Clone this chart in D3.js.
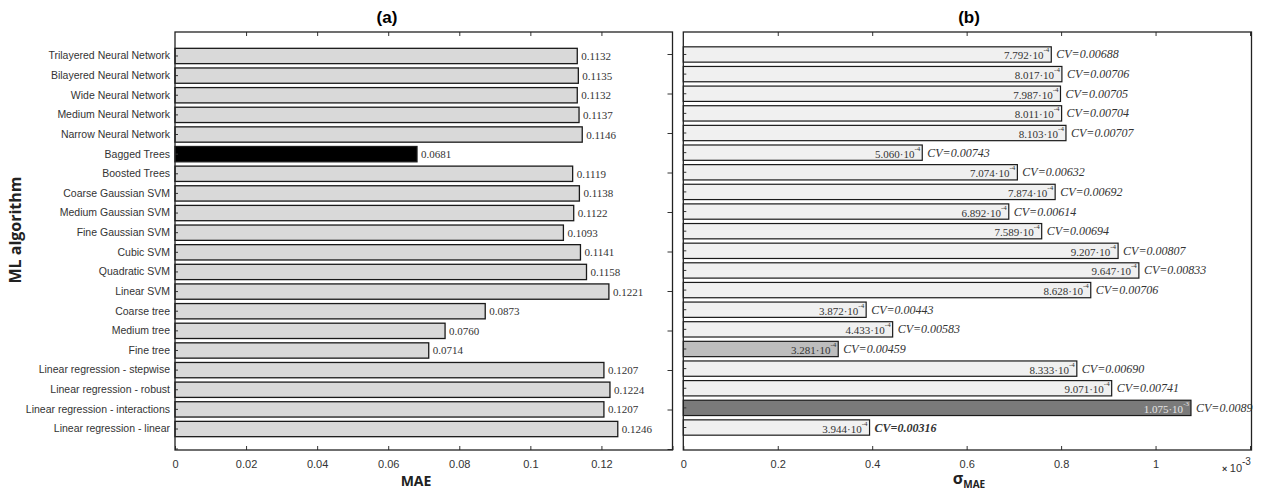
<!DOCTYPE html>
<meta charset="utf-8">
<script src="https://d3js.org/d3.v7.min.js"></script>
<style>
  body { margin: 0; background: #fff; }
  .tick text { font-family: "Liberation Sans", Arial, sans-serif; fill: #333; }
  .tick line { stroke: #333; }
  .val { font-family: "Liberation Serif", "Times New Roman", serif; fill: #333; }
</style>
<div id="chart"></div>
<script>
// data, listed top to bottom as in the figure
var algorithms = [
  "Trilayered Neural Network", "Bilayered Neural Network", "Wide Neural Network",
  "Medium Neural Network", "Narrow Neural Network", "Bagged Trees", "Boosted Trees",
  "Coarse Gaussian SVM", "Medium Gaussian SVM", "Fine Gaussian SVM", "Cubic SVM",
  "Quadratic SVM", "Linear SVM", "Coarse tree", "Medium tree", "Fine tree",
  "Linear regression - stepwise", "Linear regression - robust",
  "Linear regression - interactions", "Linear regression - linear"
];
var maeValues = [0.1132, 0.1135, 0.1132, 0.1137, 0.1146, 0.0681, 0.1119, 0.1138, 0.1122, 0.1093,
                 0.1141, 0.1158, 0.1221, 0.0873, 0.0760, 0.0714, 0.1207, 0.1224, 0.1207, 0.1246];
var sigmaValues = [7.792e-4, 8.017e-4, 7.987e-4, 8.011e-4, 8.103e-4, 5.060e-4, 7.074e-4, 7.874e-4,
                   6.892e-4, 7.589e-4, 9.207e-4, 9.647e-4, 8.628e-4, 3.872e-4, 4.433e-4, 3.281e-4,
                   8.333e-4, 9.071e-4, 1.075e-3, 3.944e-4];
var cvLabels = ["0.00688", "0.00706", "0.00705", "0.00704", "0.00707", "0.00743", "0.00632", "0.00692",
                "0.00614", "0.00694", "0.00807", "0.00833", "0.00706", "0.00443", "0.00583", "0.00459",
                "0.00690", "0.00741", "0.0089", "0.00316"];
var maeTicks = [0, 0.02, 0.04, 0.06, 0.08, 0.1, 0.12, 0.14];
var sigmaTicks = [0, 0.2e-3, 0.4e-3, 0.6e-3, 0.8e-3, 1.0e-3, 1.2e-3];
var bestMae = "Bagged Trees";
var sigmaShaded = { "Fine tree": "#bdbdbd", "Linear regression - interactions": "#7a7a7a" };
var bestCv = "Linear regression - linear";

var W = 1261, H = 491;
var top0 = 32, bot0 = 450;
var A = { x0: 175, x1: 672.5 };
var B = { x0: 683.3, x1: 1250 };

var svg = d3.select("#chart").append("svg")
  .attr("width", W).attr("height", H)
  .style("font-family", "'Liberation Sans', Arial, sans-serif");

// scales
var xA = d3.scaleLinear().domain([0, 0.14]).range([A.x0, A.x1]);
var xB = d3.scaleLinear().domain([0, 1.2e-3]).range([B.x0, B.x1]);
var yA = d3.scaleBand().domain(algorithms).range([top0 + 1.5, bot0 + 1.5]).paddingInner(0.22).paddingOuter(0.755);
var yB = d3.scaleBand().domain(algorithms).range([top0, bot0]).paddingInner(0.22).paddingOuter(0.755);

// ---------- panel (a) ----------
var gA = svg.append("g");

gA.selectAll("rect.bar")
  .data(algorithms)
  .enter().append("rect")
  .attr("class", "bar")
  .attr("x", xA(0))
  .attr("y", function(d) { return yA(d); })
  .attr("width", function(d, i) { return xA(maeValues[i]) - xA(0); })
  .attr("height", yA.bandwidth())
  .attr("fill", function(d) { return d === bestMae ? "#000" : "#d9d9d9"; })
  .attr("stroke", "#1a1a1a")
  .attr("stroke-width", 1.3);

gA.selectAll("text.val")
  .data(algorithms)
  .enter().append("text")
  .attr("class", "val")
  .attr("x", function(d, i) { return xA(maeValues[i]) + 4; })
  .attr("y", function(d) { return yA(d) + yA.bandwidth() / 2 + 4; })
  .style("font-size", "11px")
  .text(function(d, i) { return maeValues[i].toFixed(4); });

// axes of (a)
gA.append("g")
  .attr("transform", "translate(0," + bot0 + ")")
  .call(d3.axisBottom(xA).tickValues(maeTicks).tickSizeInner(-4).tickSizeOuter(0).tickPadding(10)
    .tickFormat(function(d) { return d === 0.14 ? "" : d3.format("")(+d.toFixed(2)); }))
  .call(function(g) { g.select(".domain").remove(); g.selectAll("text").style("font-size", "11px"); });

gA.append("g")
  .attr("transform", "translate(0," + top0 + ")")
  .call(d3.axisTop(xA).tickValues(maeTicks.slice(1, -1)).tickSizeInner(-4).tickSizeOuter(0).tickFormat(""))
  .call(function(g) { g.select(".domain").remove(); });

gA.append("g")
  .attr("transform", "translate(" + A.x0 + ",0)")
  .call(d3.axisLeft(yA).tickSizeInner(-3).tickSizeOuter(0).tickPadding(5))
  .call(function(g) { g.select(".domain").remove(); g.selectAll("text").style("font-size", "10.5px"); });

// secondary ticks on the right side of (a)
var y2 = d3.scaleLinear().domain([0, 10]).range([449, 54]);
gA.append("g")
  .attr("transform", "translate(" + A.x1 + ",0)")
  .call(d3.axisRight(y2).ticks(10).tickSizeInner(-5).tickSizeOuter(0).tickFormat(""))
  .call(function(g) { g.select(".domain").remove(); });
gA.append("line")
  .attr("x1", A.x0).attr("x2", A.x0 + 3)
  .attr("y1", y2(0)).attr("y2", y2(0))
  .attr("stroke", "#333");

gA.append("rect")
  .attr("x", A.x0).attr("y", top0)
  .attr("width", A.x1 - A.x0).attr("height", bot0 - top0)
  .attr("fill", "none").attr("stroke", "#222").attr("stroke-width", 1.3);

gA.append("text")
  .attr("x", 387).attr("y", 23)
  .attr("text-anchor", "middle")
  .style("font-size", "17px").style("font-weight", "bold")
  .text("(a)");

gA.append("text")
  .attr("x", 416).attr("y", 486)
  .attr("text-anchor", "middle")
  .style("font-family", "'Open Sans', sans-serif")
  .style("font-size", "14px").style("font-weight", "bold").style("fill", "#222")
  .text("MAE");

gA.append("text")
  .attr("transform", "translate(21,230) rotate(-90)")
  .attr("text-anchor", "middle")
  .style("font-family", "'Open Sans', sans-serif")
  .style("font-size", "16px").style("font-weight", "bold").style("fill", "#222")
  .text("ML algorithm");

// ---------- panel (b) ----------
var gB = svg.append("g");

gB.selectAll("rect.bar")
  .data(algorithms)
  .enter().append("rect")
  .attr("class", "bar")
  .attr("x", xB(0))
  .attr("y", function(d) { return yB(d); })
  .attr("width", function(d, i) { return xB(sigmaValues[i]) - xB(0); })
  .attr("height", yB.bandwidth())
  .attr("fill", function(d) { return sigmaShaded[d] || "#f0f0f0"; })
  .attr("stroke", "#1a1a1a")
  .attr("stroke-width", 1.2);

// value inside bar, mantissa·10^exp
var vals = gB.selectAll("text.sig")
  .data(algorithms)
  .enter().append("text")
  .attr("class", "val sig")
  .attr("text-anchor", "end")
  .attr("x", function(d, i) { return xB(sigmaValues[i]) - 2; })
  .attr("y", function(d) { return yB(d) + yB.bandwidth() / 2 + 5; })
  .style("font-size", "11px")
  .style("fill", function(d) { return d === "Linear regression - interactions" ? "#e6e6e6" : "#333"; });
vals.append("tspan")
  .text(function(d, i) {
    var e = Math.floor(Math.log10(sigmaValues[i]) + 1e-9);
    return (sigmaValues[i] / Math.pow(10, e)).toFixed(3) + "\u00b710";
  });
vals.append("tspan")
  .attr("dy", -7)
  .style("font-size", "7px")
  .text(function(d, i) { return Math.floor(Math.log10(sigmaValues[i]) + 1e-9); });

gB.selectAll("text.cv")
  .data(algorithms)
  .enter().append("text")
  .attr("class", "val cv")
  .attr("x", function(d, i) { return xB(sigmaValues[i]) + 5; })
  .attr("y", function(d) { return yB(d) + yB.bandwidth() / 2 + 4; })
  .style("font-size", "12px")
  .style("font-style", "italic")
  .style("font-weight", function(d) { return d === bestCv ? "bold" : "normal"; })
  .text(function(d, i) { return "CV=" + cvLabels[i]; });

gB.append("g")
  .attr("transform", "translate(0," + bot0 + ")")
  .call(d3.axisBottom(xB).tickValues(sigmaTicks).tickSizeInner(-4).tickSizeOuter(0).tickPadding(10)
    .tickFormat(function(d) { return d > 1.1e-3 ? "" : d3.format("")(+(d * 1000).toFixed(1)); }))
  .call(function(g) { g.select(".domain").remove(); g.selectAll("text").style("font-size", "11px"); });

gB.append("g")
  .attr("transform", "translate(0," + top0 + ")")
  .call(d3.axisTop(xB).tickValues(sigmaTicks.slice(1)).tickSizeInner(-4).tickSizeOuter(0).tickFormat(""))
  .call(function(g) { g.select(".domain").remove(); });

gB.append("g")
  .attr("transform", "translate(" + B.x0 + ",0)")
  .call(d3.axisLeft(yB).tickSizeInner(-3).tickSizeOuter(0).tickFormat(""))
  .call(function(g) { g.select(".domain").remove(); });

gB.append("rect")
  .attr("x", B.x0).attr("y", top0)
  .attr("width", B.x1 + 1.5 - B.x0).attr("height", bot0 - top0)
  .attr("fill", "none").attr("stroke", "#222").attr("stroke-width", 1.3);

gB.append("text")
  .attr("x", 969).attr("y", 23)
  .attr("text-anchor", "middle")
  .style("font-size", "17px").style("font-weight", "bold")
  .text("(b)");

var sx = gB.append("text")
  .attr("x", 969).attr("y", 484)
  .attr("text-anchor", "middle")
  .style("font-family", "'Open Sans', sans-serif")
  .style("font-weight", "bold").style("fill", "#222");
sx.append("tspan").style("font-size", "16px").text("\u03c3");
sx.append("tspan").attr("dy", 4).style("font-size", "10px").text("MAE");

var mult = gB.append("text")
  .attr("x", 1222).attr("y", 472)
  .style("font-size", "11px").style("fill", "#333");
mult.append("tspan").style("font-weight", "bold").style("font-size", "9px").text("\u00d7 ");
mult.append("tspan").text("10");
mult.append("tspan").attr("dy", -7).style("font-size", "10px").text("-3");
</script>
